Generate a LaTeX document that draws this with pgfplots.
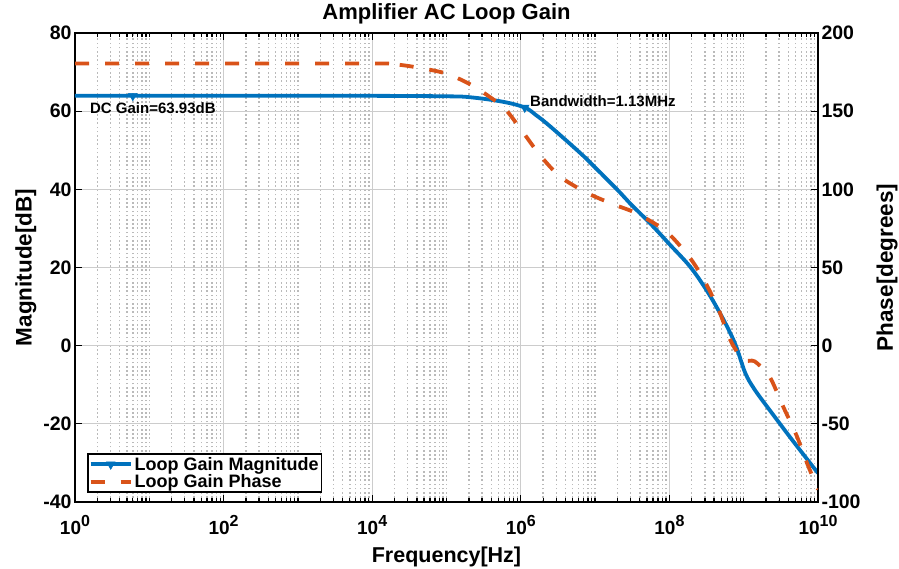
\documentclass[border=0pt]{standalone}
\usepackage{fontspec}
\setmainfont{Liberation Sans}
\usepackage{pgfplots}
\pgfplotsset{compat=1.18}
\definecolor{mblue}{RGB}{0,114,189}
\definecolor{morange}{RGB}{217,83,25}
\newcommand{\tpow}[1]{10\raisebox{8pt}{\fontsize{16}{16}\selectfont #1}}
\tikzset{
  mymagline/.style={mblue, line width=3.8pt, solid, mark=triangle*, mark indices={2,8},
    mark options={solid, rotate=180, line width=0.5pt}, mark size=5pt},
  myphline/.style={morange, line width=3.8pt, dash pattern=on 14pt off 16pt},
}
\begin{document}
\begin{tikzpicture}
\begin{axis}[
  scale only axis, width=743pt, height=469pt,
  xmode=log, xmin=1, xmax=1e10,
  tick align=inside,
  major tick length=7pt, minor tick length=4pt,
  axis line style={line width=1.6pt, black},
  tick style={line width=1.3pt, black},
  yticklabel style={font=\fontsize{19.5}{24}\selectfont\bfseries},
  xticklabel style={font=\fontsize{19}{24}\selectfont\bfseries, anchor=base, yshift=-33pt},
  /pgf/number format/assume math mode=true,
  ymin=-40, ymax=80, ytick={-40,-20,0,20,40,60,80},
  ytick pos=left,
  xtick={1,1e2,1e4,1e6,1e8,1e10},
  xticklabels={\tpow{0},\tpow{2},\tpow{4},\tpow{6},\tpow{8},\tpow{10}},
  minor xtick={2,3,4,5,6,7,8,9,10,20,30,40,50,60,70,80,90,200,300,400,500,600,700,800,900,1000,2000,3000,4000,5000,6000,7000,8000,9000,2e4,3e4,4e4,5e4,6e4,7e4,8e4,9e4,1e5,2e5,3e5,4e5,5e5,6e5,7e5,8e5,9e5,2e6,3e6,4e6,5e6,6e6,7e6,8e6,9e6,1e7,2e7,3e7,4e7,5e7,6e7,7e7,8e7,9e7,2e8,3e8,4e8,5e8,6e8,7e8,8e8,9e8,1e9,2e9,3e9,4e9,5e9,6e9,7e9,8e9,9e9},
  xmajorgrids, ymajorgrids, xminorgrids,
  major grid style={solid, black!20, line width=1pt},
  minor grid style={black!27, line width=1.4pt, dash pattern=on 1.6pt off 2.6pt},
  title={Amplifier AC Loop Gain},
  title style={font=\fontsize{22}{26}\selectfont\bfseries, at={(axis description cs:0.5,1)}, anchor=base, yshift=7pt},
  xlabel={Frequency[Hz]},
  xlabel style={font=\fontsize{21.5}{25}\selectfont\bfseries, at={(axis description cs:0.5,0)}, anchor=base, yshift=-61pt, inner sep=0pt},
  ylabel={Magnitude[dB]},
  ylabel style={font=\fontsize{22.5}{26}\selectfont\bfseries, at={(axis description cs:-0.0583,0.5)}, anchor=base, inner sep=0pt},
]
\addplot[mymagline, smooth, tension=0.6] coordinates {
(1,63.93) (6,63.93) (1e3,63.93) (1e4,63.92) (1e5,63.8) (2.1e5,63.55) (5.75e5,62.4)
(1.13e6,60.93) (1.6e6,59.0) (2.45e6,56.2) (6.3e6,49.3) (1e7,45.6) (2.16e7,39.2)
(2.95e7,36.4) (5.5e7,31.3) (1.02e8,25.8) (1.9e8,20.2) (3.16e8,14.2) (4.8e8,8.3)
(6.6e8,3.2) (8.1e8,-0.7) (1.05e9,-7.0) (1.4e9,-11.2) (2.24e9,-16.5) (4.2e9,-23.4)
(7.8e9,-30) (1e10,-32.6)
};
\node[anchor=base west, inner sep=0, font=\fontsize{15}{18}\selectfont\bfseries] at (axis cs:1.59,59.5) {DC Gain=63.93dB};
\node[anchor=base west, inner sep=0, font=\fontsize{15}{18}\selectfont\bfseries] at (axis cs:1.33e6,61.3) {Bandwidth=1.13MHz};
\end{axis}
\begin{axis}[
  scale only axis, width=743pt, height=469pt,
  xmode=log, xmin=1, xmax=1e10,
  tick align=inside,
  major tick length=7pt,
  axis line style={line width=1.6pt, black},
  tick style={line width=1.3pt, black},
  yticklabel style={font=\fontsize{19.5}{24}\selectfont\bfseries},
  /pgf/number format/assume math mode=true,
  ymin=-100, ymax=200, ytick={-100,-50,0,50,100,150,200},
  axis y line*=right, axis x line=none,
  ylabel={Phase[degrees]},
  ylabel style={font=\fontsize{22.5}{26}\selectfont\bfseries, at={(axis description cs:1.1009,0.5)}, anchor=base, inner sep=0pt},
  legend style={at={(axis description cs:0.0162,0.0192)}, anchor=south west,
    draw=black, line width=1.6pt, fill=white, font=\fontsize{18}{20}\selectfont\bfseries,
    inner sep=1pt, row sep=-1pt, cells={anchor=west}},
  legend image code/.code={\draw[mark repeat=2,mark phase=2,#1] plot coordinates {(0pt,0pt) (20pt,0pt) (40pt,0pt)};},
]
\addlegendimage{mymagline}
\addplot[myphline, smooth, tension=0.45] coordinates {
(1,180.5) (1e4,180.5) (2e4,180) (4e4,178) (1e5,174) (2.3e5,166) (5.75e5,152.7)
(9.8e5,139) (1.8e6,122) (3.4e6,108) (7.8e6,97.7) (1.74e7,90.5) (3.6e7,84.7)
(9.1e7,73) (1.9e8,56) (3e8,41) (4.6e8,23) (6.6e8,3.6) (9.8e8,-9.2) (1.4e9,-10)
(2.24e9,-20) (3.4e9,-39) (5.2e9,-58) (7.1e9,-75) (1e10,-92)
};
\legend{Loop Gain Magnitude, Loop Gain Phase}
\end{axis}
\path (current axis.south west) ++(-75pt,-67pt);
\path (current axis.north east) ++(81pt,33pt);
\end{tikzpicture}
\end{document}
